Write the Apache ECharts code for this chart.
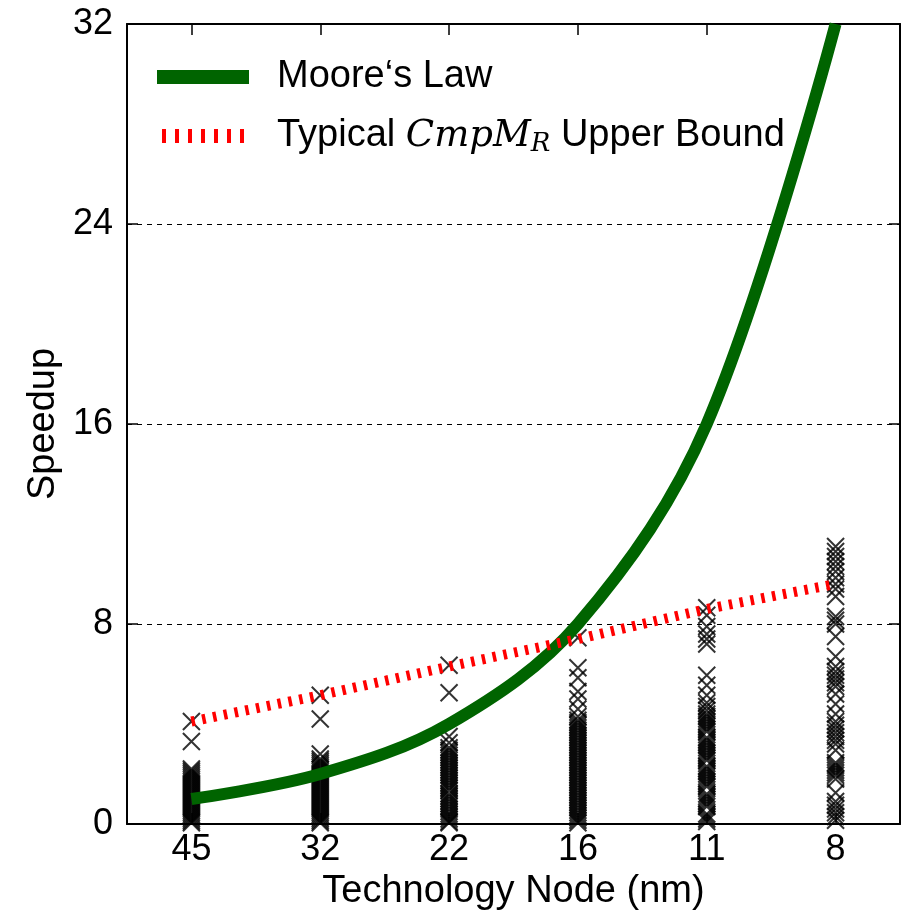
<!DOCTYPE html>
<html><head><meta charset="utf-8">
<script src="https://cdn.jsdelivr.net/npm/echarts@6/dist/echarts.min.js"></script>
<style>html,body{margin:0;padding:0;background:#fff}#c{width:902px;height:911px}</style>
</head><body><div id="c"></div>
<script>
const categories = ['45', '32', '22', '16', '11', '8'];
const mooresLaw = [1, 2, 4, 8, 16, 32];
const upperBound = [4.1, 5.15, 6.3, 7.4, 8.6, 9.6];
const yMin = 0, yMax = 32, yStep = 8;

const speedup45 = [4.1, 3.3, 2.2, 2.12, 2.04, 1.96, 1.88, 1.8, 1.72, 1.64, 1.56, 1.48, 1.4, 1.32, 1.24, 1.16, 1.08, 1.0, 0.92, 0.84, 0.76, 0.68, 0.6, 0.52, 0.44, 0.36, 0.28, 0.2, 0.12, 0.05];
const speedup32 = [5.15, 4.2, 2.8, 2.6, 2.52, 2.44, 2.36, 2.28, 2.2, 2.12, 2.04, 1.96, 1.88, 1.8, 1.72, 1.64, 1.56, 1.48, 1.4, 1.32, 1.24, 1.16, 1.08, 1.0, 0.92, 0.84, 0.76, 0.68, 0.6, 0.52, 0.44, 0.36, 0.28, 0.2, 0.12, 0.05];
const speedup22 = [6.35, 5.25, 3.5, 3.25, 3.05, 2.95, 2.85, 2.75, 2.65, 2.55, 2.45, 2.35, 2.25, 2.15, 2.05, 1.95, 1.85, 1.75, 1.65, 1.55, 1.45, 1.35, 1.2, 1.1, 1.0, 0.9, 0.8, 0.7, 0.6, 0.5, 0.4, 0.3, 0.2, 0.1, 0.05];
const speedup16 = [7.45, 6.25, 5.85, 5.3, 5.0, 4.6, 4.3, 4.15, 4.05, 3.95, 3.85, 3.75, 3.65, 3.55, 3.45, 3.35, 3.25, 3.15, 3.05, 2.95, 2.85, 2.75, 2.65, 2.55, 2.45, 2.35, 2.25, 2.15, 2.05, 1.95, 1.85, 1.75, 1.65, 1.55, 1.45, 1.35, 1.25, 1.15, 1.05, 0.95, 0.85, 0.75, 0.65, 0.55, 0.45, 0.35, 0.25, 0.15, 0.05];
const speedup11 = [8.65, 8.35, 7.9, 7.6, 7.4, 7.2, 5.95, 5.55, 5.15, 4.85, 4.7, 4.55, 4.4, 4.3, 4.2, 4.1, 4.0, 3.9, 3.8, 3.7, 3.45, 3.35, 3.25, 3.15, 3.05, 2.95, 2.85, 2.75, 2.65, 2.55, 2.3, 2.2, 2.1, 2.0, 1.9, 1.8, 1.7, 1.6, 1.5, 1.2, 1.1, 1.0, 0.9, 0.8, 0.7, 0.4, 0.3, 0.2, 0.1];
const speedup8 = [11.1, 10.9, 10.7, 10.5, 10.3, 10.1, 9.85, 9.6, 9.4, 9.1, 8.3, 8.15, 8.0, 7.5, 6.7, 6.3, 6.1, 5.95, 5.8, 5.65, 5.5, 5.2, 4.8, 4.4, 4.1, 3.95, 3.8, 3.65, 3.5, 3.35, 3.2, 2.95, 2.45, 2.35, 2.25, 2.15, 2.05, 1.95, 1.8, 1.25, 0.9, 0.75, 0.6, 0.45, 0.3, 0.15];
const speedupColumns = [speedup45, speedup32, speedup22, speedup16, speedup11, speedup8];

const scatterData = [];
speedupColumns.forEach((col, i) => col.forEach(v => scatterData.push([i, v])));

const FONT = 'Liberation Sans';
const MOORE = 'Moore‘s Law';
const BOUND = 'Typical CmpMR Upper Bound';

const barsIcon = 'path://M0,0h4v14h-4z M13,0h4v14h-4z M26,0h4v14h-4z M39,0h4v14h-4z M52,0h4v14h-4z M65,0h4v14h-4z M78,0h4v14h-4z';

const chart = echarts.init(document.getElementById('c'), null, {renderer: 'canvas'});
const axisLine = {show: true, onZero: false, lineStyle: {color: '#000', width: 2}};
const tick = {show: true, inside: true, length: 11, lineStyle: {color: '#000', width: 1.5}};
chart.setOption({
  animation: false,
  backgroundColor: '#fff',
  textStyle: {fontFamily: FONT},
  grid: {left: 127, right: 2, top: 24, bottom: 87, containLabel: false, outerBoundsMode: 'none'},
  legend: {
    data: [
      {name: MOORE, icon: 'rect'},
      {name: BOUND, icon: barsIcon}
    ],
    orient: 'vertical', left: 157, top: 58, padding: 0,
    itemWidth: 92, itemHeight: 14, itemGap: 21,
    textStyle: {
      fontFamily: FONT, fontSize: 38, color: '#000',
      rich: {
        g: {width: 23},
        m: {fontFamily: 'DejaVu Serif', fontStyle: 'italic', fontSize: 37, color: '#000'},
        s: {fontFamily: 'DejaVu Serif', fontStyle: 'italic', fontSize: 26, color: '#000', padding: [16, 0, 0, 0]}
      }
    },
    formatter: name => name === BOUND ? '{g|}Typical {m|CmpM}{s|R} Upper Bound' : '{g|}' + name
  },
  xAxis: [{
    type: 'category', data: categories, position: 'bottom',
    axisLine: axisLine,
    axisTick: Object.assign({alignWithLabel: true}, tick),
    axisLabel: {fontFamily: FONT, fontSize: 36, color: '#000', margin: 8},
    name: 'Technology Node (nm)', nameLocation: 'middle', nameGap: 38,
    nameTextStyle: {fontFamily: FONT, fontSize: 38, color: '#000'},
    splitLine: {show: false}
  }, {
    type: 'category', data: categories, position: 'top',
    axisLine: axisLine,
    axisTick: Object.assign({alignWithLabel: true}, tick),
    axisLabel: {show: false}, splitLine: {show: false}
  }],
  yAxis: [{
    type: 'value', min: yMin, max: yMax, interval: yStep, position: 'left',
    axisLine: axisLine,
    axisTick: tick,
    axisLabel: {fontFamily: FONT, fontSize: 36, color: '#000', margin: 14},
    splitLine: {show: true, lineStyle: {color: '#000', width: 1, type: [5, 5]}},
    name: 'Speedup', nameLocation: 'middle', nameGap: 60, nameRotate: 90,
    nameTextStyle: {fontFamily: FONT, fontSize: 38, color: '#000'}
  }, {
    type: 'value', min: yMin, max: yMax, interval: yStep, position: 'right',
    axisLine: axisLine,
    axisTick: tick,
    axisLabel: {show: false}, splitLine: {show: false}
  }],
  series: [{
    type: 'scatter', name: 'points', data: scatterData,
    symbol: 'path://M0,0L10,10M10,0L0,10', symbolSize: 17,
    itemStyle: {color: 'rgba(0,0,0,0)', borderColor: '#000', borderWidth: 2},
    z: 2
  }, {
    type: 'line', name: MOORE, data: mooresLaw, smooth: 0.35,
    symbol: 'none', lineStyle: {color: '#006400', width: 12},
    itemStyle: {color: '#006400'}, z: 3
  }, {
    type: 'line', name: BOUND, data: upperBound,
    symbol: 'none', lineStyle: {color: '#ff0000', width: 10, type: [3.5, 7.5]},
    itemStyle: {color: '#ff0000'}, z: 4
  }]
});
</script>
</body></html>
